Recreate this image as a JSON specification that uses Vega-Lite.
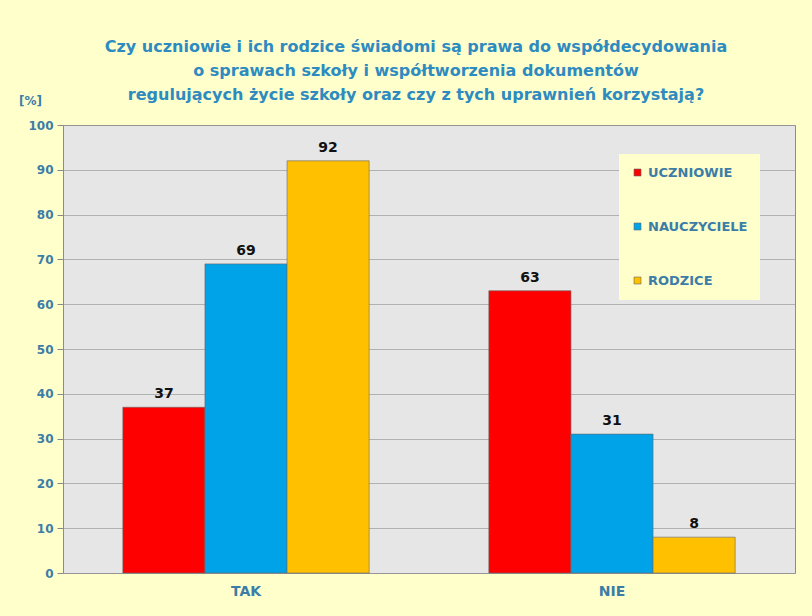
{
  "$schema": "https://vega.github.io/schema/vega-lite/v6.json",
  "width": 732,
  "height": 448,
  "autosize": {"type": "none"},
  "padding": {"left": 63, "top": 125, "right": 17, "bottom": 43},
  "background": "#FFFFCC",
  "config": {
    "font": "DejaVu Sans",
    "view": {"fill": "#E6E6E6", "stroke": "#8C8C8C", "strokeWidth": 1}
  },
  "title": {
    "text": [
      "Czy uczniowie  i ich rodzice  świadomi  są prawa do współdecydowania",
      "o sprawach szkoły  i współtworzenia  dokumentów",
      "regulujących  życie szkoły  oraz czy z tych  uprawnień  korzystają?"
    ],
    "font": "DejaVu Sans",
    "fontSize": 16,
    "fontWeight": "bold",
    "color": "#2E8BC0",
    "lineHeight": 24,
    "anchor": "middle",
    "dx": -13,
    "offset": -9
  },
  "data": {
    "values": [
      {"odpowiedz": "TAK", "grupa": "UCZNIOWIE", "wartosc": 37},
      {"odpowiedz": "TAK", "grupa": "NAUCZYCIELE", "wartosc": 69},
      {"odpowiedz": "TAK", "grupa": "RODZICE", "wartosc": 92},
      {"odpowiedz": "NIE", "grupa": "UCZNIOWIE", "wartosc": 63},
      {"odpowiedz": "NIE", "grupa": "NAUCZYCIELE", "wartosc": 31},
      {"odpowiedz": "NIE", "grupa": "RODZICE", "wartosc": 8}
    ]
  },
  "encoding": {
    "x": {
      "field": "odpowiedz",
      "type": "nominal",
      "sort": ["TAK", "NIE"],
      "scale": {"paddingInner": 0.327, "paddingOuter": 0.1635},
      "axis": {
        "title": null,
        "labelAngle": 0,
        "ticks": false,
        "domain": false,
        "labelPadding": 11,
        "labelFont": "DejaVu Sans",
        "labelFontSize": 14,
        "labelFontWeight": "bold",
        "labelColor": "#3B7DA6"
      }
    },
    "xOffset": {
      "field": "grupa",
      "type": "nominal",
      "sort": ["UCZNIOWIE", "NAUCZYCIELE", "RODZICE"],
      "scale": {"paddingInner": 0, "paddingOuter": 0}
    },
    "y": {
      "field": "wartosc",
      "type": "quantitative",
      "scale": {"domain": [0, 100], "nice": false},
      "axis": {
        "values": [0, 10, 20, 30, 40, 50, 60, 70, 80, 90, 100],
        "grid": true,
        "gridColor": "#9A9A9A",
        "gridOpacity": 0.7,
        "domain": false,
        "tickColor": "#888888",
        "tickSize": 6,
        "labelPadding": 4,
        "labelFont": "DejaVu Sans",
        "labelFontSize": 12,
        "labelFontWeight": "bold",
        "labelColor": "#3B7DA6",
        "title": "[%]",
        "titleAngle": 0,
        "titleX": -33,
        "titleY": -25,
        "titleAlign": "center",
        "titleBaseline": "middle",
        "titleFont": "DejaVu Sans",
        "titleFontSize": 12,
        "titleFontWeight": "bold",
        "titleColor": "#3B7DA6"
      }
    }
  },
  "layer": [
    {
      "mark": {"type": "bar", "stroke": "#666666", "strokeWidth": 0.6},
      "encoding": {
        "color": {
          "field": "grupa",
          "type": "nominal",
          "sort": ["UCZNIOWIE", "NAUCZYCIELE", "RODZICE"],
          "scale": {
            "domain": ["UCZNIOWIE", "NAUCZYCIELE", "RODZICE"],
            "range": ["#FF0000", "#00A3E8", "#FFC000"]
          },
          "legend": {
            "title": null,
            "orient": "none",
            "legendX": 556,
            "legendY": 29,
            "fillColor": "#FFFFCC",
            "padding": 12,
            "rowPadding": 40,
            "symbolType": "square",
            "symbolSize": 49,
            "symbolStrokeWidth": 0.6,
            "labelFont": "DejaVu Sans",
            "labelFontSize": 13,
            "labelFontWeight": "bold",
            "labelColor": "#3B7DA6",
            "labelOffset": 4
          }
        }
      }
    },
    {
      "mark": {
        "type": "text",
        "baseline": "bottom",
        "dy": -6,
        "font": "DejaVu Sans",
        "fontSize": 14,
        "fontWeight": "bold",
        "color": "#111111"
      },
      "encoding": {
        "text": {"field": "wartosc", "type": "quantitative"}
      }
    }
  ]
}
